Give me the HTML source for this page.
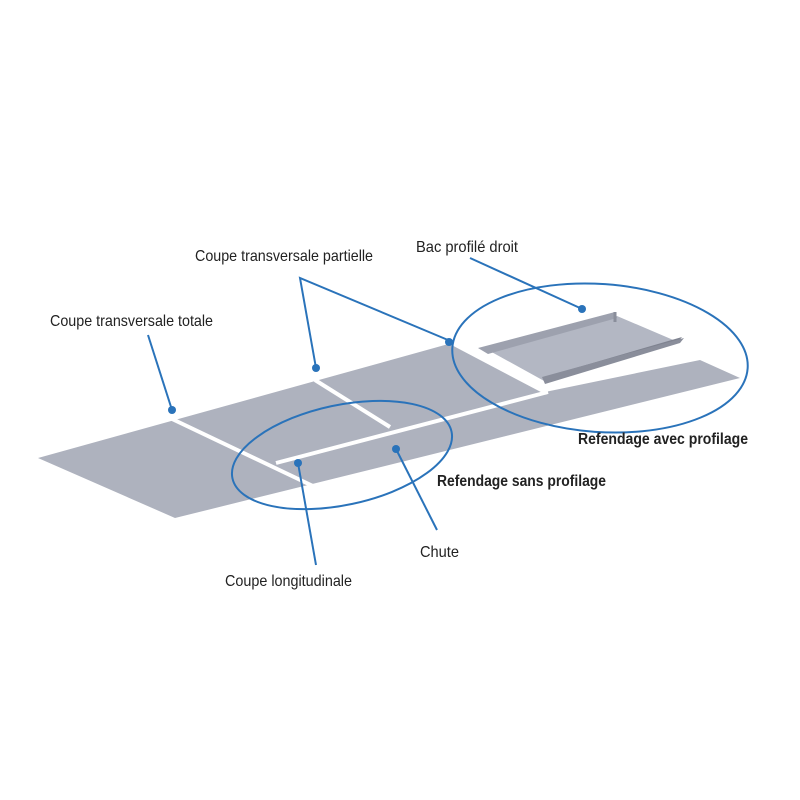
<!DOCTYPE html>
<html><head><style>
html,body{margin:0;padding:0;background:#fff;}
svg{display:block}
text{font-family:"Liberation Sans Narrow","Liberation Sans",sans-serif;font-size:16px;fill:#222}
</style></head><body>
<svg width="800" height="800" viewBox="0 0 800 800">
<polygon points="38,458 452,343 545,392 700,360 740,378 175,518" fill="#aeb2be"/>
<g stroke="#fff" stroke-width="4" fill="none">
<line x1="170" y1="418" x2="315" y2="487"/>
<line x1="315" y1="380" x2="390" y2="427"/>
<line x1="276" y1="463" x2="548" y2="392"/>
<line x1="452" y1="343" x2="547" y2="393"/>
</g>
<polygon points="488,350 617,316 678,342 546,382" fill="#b3b7c3"/>
<polygon points="478,348 615,312 617,318 488,354" fill="#9da1ae"/>
<polygon points="546,382 678,342 682,337 548,376" fill="#7f8390"/>
<polygon points="545,384 680,343 684,338 542,377" fill="#8a8e9b"/>
<line x1="615" y1="312" x2="615" y2="322" stroke="#8a8e9b" stroke-width="3"/>
<g fill="none" stroke="#2a73ba" stroke-width="2">
<ellipse cx="600" cy="358" rx="148" ry="74" transform="rotate(4 600 358)"/>
<ellipse cx="342" cy="455" rx="112" ry="50" transform="rotate(-12 342 455)"/>
<polyline points="148,335 172,410"/>
<polyline points="316,368 300,278 448,340"/>
<polyline points="470,258 580,308"/>
<polyline points="437,530 396,449"/>
<polyline points="316,565 298,463"/>
</g>
<g fill="#2a73ba">
<circle cx="172" cy="410" r="4"/>
<circle cx="316" cy="368" r="4"/>
<circle cx="449" cy="342" r="4"/>
<circle cx="582" cy="309" r="4"/>
<circle cx="396" cy="449" r="4"/>
<circle cx="298" cy="463" r="4"/>
</g>
<text x="50" y="326" textLength="163" lengthAdjust="spacingAndGlyphs">Coupe transversale totale</text>
<text x="195" y="261" textLength="178" lengthAdjust="spacingAndGlyphs">Coupe transversale partielle</text>
<text x="416" y="252" textLength="102" lengthAdjust="spacingAndGlyphs">Bac profilé droit</text>
<text x="578" y="444" style="font-weight:bold" textLength="170" lengthAdjust="spacingAndGlyphs">Refendage avec profilage</text>
<text x="437" y="486" style="font-weight:bold" textLength="169" lengthAdjust="spacingAndGlyphs">Refendage sans profilage</text>
<text x="420" y="557" textLength="39" lengthAdjust="spacingAndGlyphs">Chute</text>
<text x="225" y="586" textLength="127" lengthAdjust="spacingAndGlyphs">Coupe longitudinale</text>
</svg>
</body></html>
